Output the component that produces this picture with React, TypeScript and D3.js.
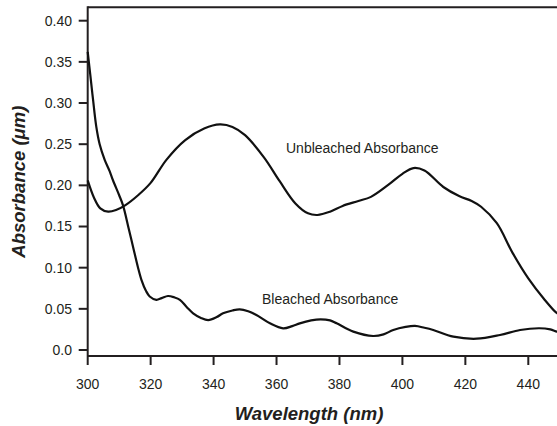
import React from "react";
import * as d3 from "d3";

const unbleachedNm = [300, 302, 304, 306.5, 309, 312, 316, 320, 325, 331, 337, 342, 346, 350, 356, 361, 366, 370, 373, 377, 381, 386, 390, 396, 400, 403.5, 407, 413, 418, 422, 425, 430, 435, 440, 445, 449, 450];
const unbleachedAbs = [0.206, 0.185, 0.172, 0.168, 0.17, 0.176, 0.188, 0.203, 0.231, 0.255, 0.269, 0.274, 0.271, 0.261, 0.234, 0.205, 0.178, 0.166, 0.164, 0.168, 0.175, 0.181, 0.186, 0.202, 0.214, 0.221, 0.218, 0.198, 0.187, 0.181, 0.174, 0.154, 0.118, 0.087, 0.062, 0.045, 0.043];

const bleachedNm = [300, 300.8, 301.7, 302.7, 303.8, 305.4, 307, 308, 310, 311.2, 313, 314.4, 316, 317.1, 318.5, 319.7, 321.8, 323.5, 325.5, 327.5, 329.3, 331.5, 333.5, 336, 338.3, 341, 343, 346, 348.3, 351, 353.6, 357.9, 362.1, 365, 367.4, 371, 374, 377, 379.1, 384.4, 390.7, 394, 397.1, 401, 404, 407, 409.8, 416.2, 423.6, 431, 437.4, 443.5, 447, 449.1, 450];
const bleachedAbs = [0.362, 0.335, 0.304, 0.272, 0.25, 0.231, 0.217, 0.2065, 0.188, 0.176, 0.148, 0.1255, 0.1, 0.085, 0.072, 0.065, 0.061, 0.063, 0.0656, 0.064, 0.061, 0.052, 0.0446, 0.039, 0.0364, 0.04, 0.0446, 0.048, 0.0494, 0.047, 0.0425, 0.0324, 0.0263, 0.029, 0.0324, 0.036, 0.0373, 0.036, 0.0324, 0.0223, 0.017, 0.019, 0.0243, 0.028, 0.0292, 0.027, 0.0243, 0.0162, 0.0137, 0.0182, 0.0243, 0.0264, 0.025, 0.0223, 0.022];

const xTicks = [300, 320, 340, 360, 380, 400, 420, 440];
const yTicks = [0, 0.05, 0.1, 0.15, 0.2, 0.25, 0.3, 0.35, 0.4];
const yTickLabels = ["0.0", "0.05", "0.10", "0.15", "0.20", "0.25", "0.30", "0.35", "0.40"];

const xTitle = "Wavelength (nm)";
const yTitle = "Absorbance (\u03bcm)";
const unbleachedLabel = "Unbleached Absorbance";
const bleachedLabel = "Bleached Absorbance";

const W = 557;
const H = 426;
const left = 87.7;
const frameTop = 7.3;
const frameBottom = 356;
const font = "'Liberation Sans', Arial, Helvetica, sans-serif";
const ink = "#231f20";

export default function App() {
  const x = d3.scaleLinear().domain([300, 440]).range([left, 528.3]);
  const y = d3.scaleLinear().domain([0, 0.4]).range([350, 20.7]);

  const line = d3
    .line<[number, number]>()
    .x((d) => x(d[0]))
    .y((d) => y(d[1]))
    .curve(d3.curveCatmullRom.alpha(0.5));

  const unb = unbleachedNm.map((n, i) => [n, unbleachedAbs[i]] as [number, number]);
  const ble = bleachedNm.map((n, i) => [n, bleachedAbs[i]] as [number, number]);

  return (
    <svg
      width={W}
      height={H}
      style={{ position: "absolute", left: 0, top: 0, background: "#fff" }}
    >
      <rect x={0} y={0} width={W} height={H} fill="#fff" />
      {/* frame */}
      <line x1={left} x2={W + 5} y1={frameTop} y2={frameTop} stroke={ink} strokeWidth={2} />
      <line x1={left} x2={W + 5} y1={frameBottom} y2={frameBottom} stroke={ink} strokeWidth={2} />
      <line x1={left} x2={left} y1={frameTop - 1} y2={frameBottom} stroke={ink} strokeWidth={2} />
      {/* x ticks */}
      {xTicks.map((t) => (
        <g key={"x" + t}>
          <line x1={x(t)} x2={x(t)} y1={frameBottom} y2={frameBottom + 9} stroke={ink} strokeWidth={2} />
          <text x={x(t)} y={389} textAnchor="middle" fontFamily={font} fontSize={14} fill={ink}>
            {t}
          </text>
        </g>
      ))}
      {/* y ticks */}
      {yTicks.map((t, i) => (
        <g key={"y" + t}>
          <line x1={left - 9} x2={left} y1={y(t)} y2={y(t)} stroke={ink} strokeWidth={2} />
          <text x={72} y={y(t)} dy="0.35em" textAnchor="end" fontFamily={font} fontSize={14} fill={ink}>
            {yTickLabels[i]}
          </text>
        </g>
      ))}
      {/* curves */}
      <path d={line(unb) || ""} fill="none" stroke="#111" strokeWidth={2.2} />
      <path d={line(ble) || ""} fill="none" stroke="#111" strokeWidth={2.2} />
      {/* annotations */}
      <text x={286} y={153} fontFamily={font} fontSize={14} fill={ink}>
        {unbleachedLabel}
      </text>
      <text x={262} y={304} fontFamily={font} fontSize={14} fill={ink}>
        {bleachedLabel}
      </text>
      {/* titles */}
      <text x={309} y={420} textAnchor="middle" fontFamily={font} fontSize={18.5} fontWeight="bold" fontStyle="italic" fill={ink}>
        {xTitle}
      </text>
      <text
        transform={`translate(25,${(frameTop + frameBottom) / 2}) rotate(-90)`}
        textAnchor="middle"
        fontFamily={font}
        fontSize={18.5}
        fontWeight="bold"
        fontStyle="italic"
        fill={ink}
      >
        {yTitle}
      </text>
    </svg>
  );
}
